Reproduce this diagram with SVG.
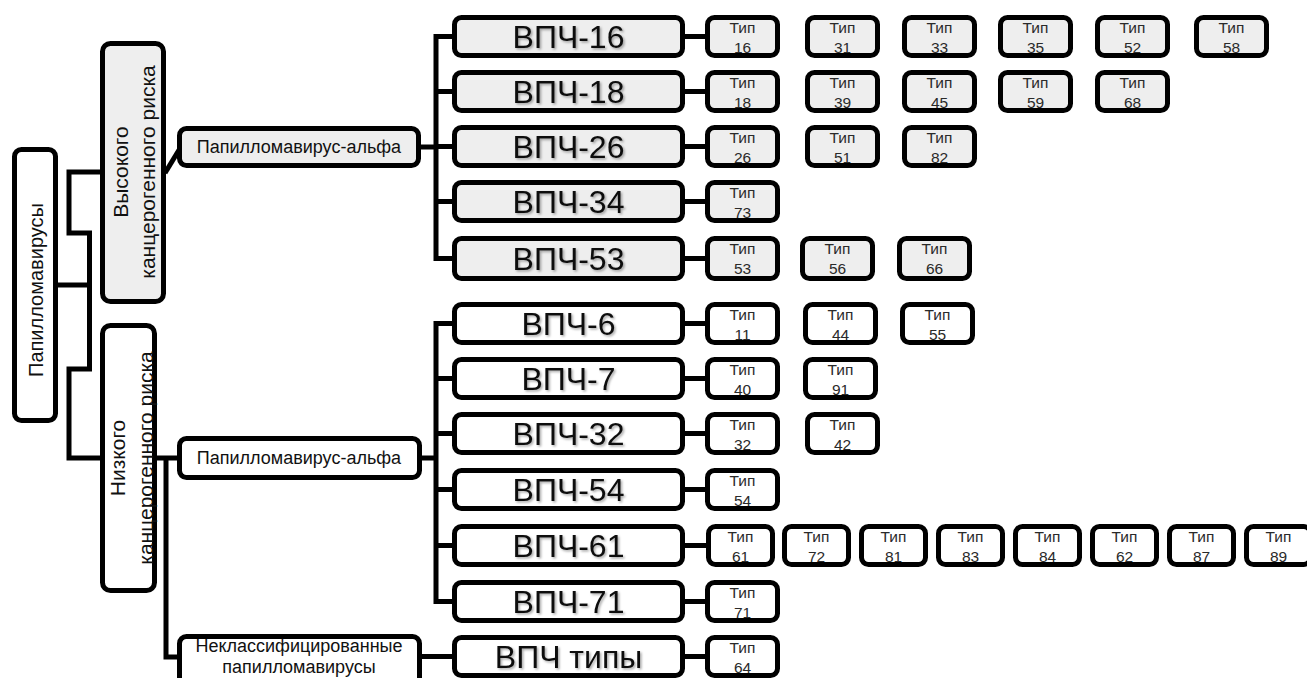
<svg xmlns="http://www.w3.org/2000/svg" width="1307" height="678" viewBox="0 0 1307 678">
<defs>
<filter id="sh" x="-10%" y="-20%" width="120%" height="150%">
<feDropShadow dx="1.5" dy="1.5" stdDeviation="1" flood-color="#000" flood-opacity="0.35"/>
</filter>
</defs>
<style>
rect{stroke:#000;stroke-width:5}
.g{fill:#eeeeee}
.w{fill:#ffffff}
text{font-family:"Liberation Sans",Arial,sans-serif;fill:#111}
.tt{font-size:15.5px;text-anchor:middle;fill:#2a2a2a}
.big{font-size:32px;text-anchor:middle;filter:url(#sh)}
.mid{font-size:18px;text-anchor:middle}
.rot{font-size:21px;text-anchor:middle}
.con{fill:none;stroke:#000;stroke-width:5;stroke-linejoin:miter}
</style>
<g id="connectors">
<path class="con" d="M58,285 H89.5"/>
<path class="con" d="M100,172 H69 V233 H89.5 V369 H69 V458 H100"/>
<path class="con" d="M165,173 L179,150"/>
<path class="con" d="M421,147 H436"/>
<path class="con" d="M452,36.5 H436 V258.5 H452 M436,91.5 H452 M436,146.5 H452 M436,201.5 H452"/>
<path class="con" d="M157,458 H177 M166,458 V657 H177"/>
<path class="con" d="M422,458 H436"/>
<path class="con" d="M452,323.5 H436 V601.5 H452 M436,378.5 H452 M436,433.5 H452 M436,489.5 H452 M436,545.5 H452"/>
<path class="con" d="M422,656.5 H452"/>
<path class="con" d="M685,36.5 H705 M685,91.5 H705 M685,146.5 H705 M685,201.5 H705 M685,258.5 H705 M685,323.5 H705 M685,378.5 H705 M685,433.5 H705 M685,489.5 H705 M685,545.5 H706 M685,601.5 H705 M685,656.5 H705"/>
</g>
<g id="root"><rect class="w" x="14.5" y="149.5" width="41" height="271" rx="7"/><text font-size="20" text-anchor="middle" transform="translate(35,290) rotate(-90)" y="8">Папилломавирусы</text></g>
<g id="high"><rect class="g" x="102.5" y="43.5" width="61" height="258" rx="8"/><text class="rot" transform="translate(128,172) rotate(-90)">Высокого</text><text class="rot" transform="translate(155,172) rotate(-90)">канцерогенного риска</text></g>
<g id="low"><rect class="w" x="102.5" y="325.5" width="52" height="265" rx="8"/><text class="rot" transform="translate(125,458) rotate(-90)">Низкого</text><text class="rot" transform="translate(153,458) rotate(-90)">канцерогенного риска</text></g>
<g id="alpha-high"><rect class="g" x="179.5" y="128.5" width="239" height="37" rx="7"/><text class="mid" x="299" y="153">Папилломавирус-альфа</text></g>
<g id="alpha-low"><rect class="w" x="179.5" y="438.5" width="240" height="39" rx="7"/><text class="mid" x="299" y="464">Папилломавирус-альфа</text></g>
<g id="unclass"><rect class="w" x="179.5" y="636.5" width="240" height="60" rx="7"/><text class="mid" x="299" y="652">Неклассифицированные</text><text class="mid" x="299" y="673">папилломавирусы</text></g>
<g id="v16"><rect class="g" x="454.5" y="17.5" width="228" height="38" rx="7"/><text class="big" x="568.5" y="48">ВПЧ-16</text></g>
<g id="v18"><rect class="g" x="454.5" y="72.5" width="228" height="38" rx="7"/><text class="big" x="568.5" y="103">ВПЧ-18</text></g>
<g id="v26"><rect class="g" x="454.5" y="127.5" width="228" height="38" rx="7"/><text class="big" x="568.5" y="158">ВПЧ-26</text></g>
<g id="v34"><rect class="g" x="454.5" y="182.5" width="228" height="38" rx="7"/><text class="big" x="568.5" y="213">ВПЧ-34</text></g>
<g id="v53"><rect class="g" x="454.5" y="238.5" width="228" height="40" rx="7"/><text class="big" x="568.5" y="270">ВПЧ-53</text></g>
<g id="v6"><rect class="w" x="454.5" y="304.5" width="228" height="38" rx="7"/><text class="big" x="568.5" y="335">ВПЧ-6</text></g>
<g id="v7"><rect class="w" x="454.5" y="359.5" width="228" height="38" rx="7"/><text class="big" x="568.5" y="390">ВПЧ-7</text></g>
<g id="v32"><rect class="w" x="454.5" y="414.5" width="228" height="38" rx="7"/><text class="big" x="568.5" y="445">ВПЧ-32</text></g>
<g id="v54"><rect class="w" x="454.5" y="470.5" width="228" height="38" rx="7"/><text class="big" x="568.5" y="501">ВПЧ-54</text></g>
<g id="v61"><rect class="w" x="454.5" y="526.5" width="228" height="38" rx="7"/><text class="big" x="568.5" y="557">ВПЧ-61</text></g>
<g id="v71"><rect class="w" x="454.5" y="582.5" width="228" height="38" rx="7"/><text class="big" x="568.5" y="613">ВПЧ-71</text></g>
<g id="vtypes"><rect class="w" x="454.5" y="637.5" width="228" height="38" rx="7"/><text class="big" x="568.5" y="668">ВПЧ типы</text></g>
<g id="t16"><rect class="g" x="707.5" y="17.5" width="70" height="38" rx="7"/><text class="tt" x="742.5" y="32.5">Тип</text><text class="tt" x="742.5" y="52.5">16</text></g>
<g id="t31"><rect class="g" x="807.5" y="17.5" width="70" height="38" rx="7"/><text class="tt" x="842.5" y="32.5">Тип</text><text class="tt" x="842.5" y="52.5">31</text></g>
<g id="t33"><rect class="g" x="904.5" y="17.5" width="70" height="38" rx="7"/><text class="tt" x="939.5" y="32.5">Тип</text><text class="tt" x="939.5" y="52.5">33</text></g>
<g id="t35"><rect class="g" x="1000.5" y="17.5" width="70" height="38" rx="7"/><text class="tt" x="1035.5" y="32.5">Тип</text><text class="tt" x="1035.5" y="52.5">35</text></g>
<g id="t52"><rect class="g" x="1097.5" y="17.5" width="70" height="38" rx="7"/><text class="tt" x="1132.5" y="32.5">Тип</text><text class="tt" x="1132.5" y="52.5">52</text></g>
<g id="t58"><rect class="g" x="1196.5" y="17.5" width="70" height="38" rx="7"/><text class="tt" x="1231.5" y="32.5">Тип</text><text class="tt" x="1231.5" y="52.5">58</text></g>
<g id="t18"><rect class="g" x="707.5" y="72.5" width="70" height="38" rx="7"/><text class="tt" x="742.5" y="87.5">Тип</text><text class="tt" x="742.5" y="107.5">18</text></g>
<g id="t39"><rect class="g" x="807.5" y="72.5" width="70" height="38" rx="7"/><text class="tt" x="842.5" y="87.5">Тип</text><text class="tt" x="842.5" y="107.5">39</text></g>
<g id="t45"><rect class="g" x="904.5" y="72.5" width="70" height="38" rx="7"/><text class="tt" x="939.5" y="87.5">Тип</text><text class="tt" x="939.5" y="107.5">45</text></g>
<g id="t59"><rect class="g" x="1000.5" y="72.5" width="70" height="38" rx="7"/><text class="tt" x="1035.5" y="87.5">Тип</text><text class="tt" x="1035.5" y="107.5">59</text></g>
<g id="t68"><rect class="g" x="1097.5" y="72.5" width="70" height="38" rx="7"/><text class="tt" x="1132.5" y="87.5">Тип</text><text class="tt" x="1132.5" y="107.5">68</text></g>
<g id="t26"><rect class="g" x="707.5" y="127.5" width="70" height="38" rx="7"/><text class="tt" x="742.5" y="142.5">Тип</text><text class="tt" x="742.5" y="162.5">26</text></g>
<g id="t51"><rect class="g" x="807.5" y="127.5" width="70" height="38" rx="7"/><text class="tt" x="842.5" y="142.5">Тип</text><text class="tt" x="842.5" y="162.5">51</text></g>
<g id="t82"><rect class="g" x="904.5" y="127.5" width="70" height="38" rx="7"/><text class="tt" x="939.5" y="142.5">Тип</text><text class="tt" x="939.5" y="162.5">82</text></g>
<g id="t73"><rect class="g" x="707.5" y="182.5" width="70" height="38" rx="7"/><text class="tt" x="742.5" y="197.5">Тип</text><text class="tt" x="742.5" y="217.5">73</text></g>
<g id="t53"><rect class="g" x="707.5" y="238.5" width="70" height="40" rx="7"/><text class="tt" x="742.5" y="254">Тип</text><text class="tt" x="742.5" y="274">53</text></g>
<g id="t56"><rect class="g" x="802.5" y="238.5" width="70" height="40" rx="7"/><text class="tt" x="837.5" y="254">Тип</text><text class="tt" x="837.5" y="274">56</text></g>
<g id="t66"><rect class="g" x="899.5" y="238.5" width="70" height="40" rx="7"/><text class="tt" x="934.5" y="254">Тип</text><text class="tt" x="934.5" y="274">66</text></g>
<g id="t11"><rect class="w" x="707.5" y="304.5" width="70" height="38" rx="7"/><text class="tt" x="742.5" y="319.5">Тип</text><text class="tt" x="742.5" y="339.5">11</text></g>
<g id="t44"><rect class="w" x="805.5" y="304.5" width="70" height="38" rx="7"/><text class="tt" x="840.5" y="319.5">Тип</text><text class="tt" x="840.5" y="339.5">44</text></g>
<g id="t55"><rect class="w" x="902.5" y="304.5" width="70" height="38" rx="7"/><text class="tt" x="937.5" y="319.5">Тип</text><text class="tt" x="937.5" y="339.5">55</text></g>
<g id="t40"><rect class="w" x="707.5" y="359.5" width="70" height="38" rx="7"/><text class="tt" x="742.5" y="374.5">Тип</text><text class="tt" x="742.5" y="394.5">40</text></g>
<g id="t91"><rect class="w" x="805.5" y="359.5" width="70" height="38" rx="7"/><text class="tt" x="840.5" y="374.5">Тип</text><text class="tt" x="840.5" y="394.5">91</text></g>
<g id="t32"><rect class="w" x="707.5" y="414.5" width="70" height="38" rx="7"/><text class="tt" x="742.5" y="429.5">Тип</text><text class="tt" x="742.5" y="449.5">32</text></g>
<g id="t42"><rect class="w" x="807.5" y="414.5" width="70" height="38" rx="7"/><text class="tt" x="842.5" y="429.5">Тип</text><text class="tt" x="842.5" y="449.5">42</text></g>
<g id="t54"><rect class="w" x="707.5" y="470.5" width="70" height="38" rx="7"/><text class="tt" x="742.5" y="485.5">Тип</text><text class="tt" x="742.5" y="505.5">54</text></g>
<g id="t61"><rect class="w" x="708.5" y="526.5" width="64" height="38" rx="7"/><text class="tt" x="740.5" y="541.5">Тип</text><text class="tt" x="740.5" y="561.5">61</text></g>
<g id="t72"><rect class="w" x="784.5" y="526.5" width="64" height="38" rx="7"/><text class="tt" x="816.5" y="541.5">Тип</text><text class="tt" x="816.5" y="561.5">72</text></g>
<g id="t81"><rect class="w" x="861.5" y="526.5" width="64" height="38" rx="7"/><text class="tt" x="893.5" y="541.5">Тип</text><text class="tt" x="893.5" y="561.5">81</text></g>
<g id="t83"><rect class="w" x="938.5" y="526.5" width="64" height="38" rx="7"/><text class="tt" x="970.5" y="541.5">Тип</text><text class="tt" x="970.5" y="561.5">83</text></g>
<g id="t84"><rect class="w" x="1015.5" y="526.5" width="64" height="38" rx="7"/><text class="tt" x="1047.5" y="541.5">Тип</text><text class="tt" x="1047.5" y="561.5">84</text></g>
<g id="t62"><rect class="w" x="1092.5" y="526.5" width="64" height="38" rx="7"/><text class="tt" x="1124.5" y="541.5">Тип</text><text class="tt" x="1124.5" y="561.5">62</text></g>
<g id="t87"><rect class="w" x="1169.5" y="526.5" width="64" height="38" rx="7"/><text class="tt" x="1201.5" y="541.5">Тип</text><text class="tt" x="1201.5" y="561.5">87</text></g>
<g id="t89"><rect class="w" x="1246.5" y="526.5" width="64" height="38" rx="7"/><text class="tt" x="1278.5" y="541.5">Тип</text><text class="tt" x="1278.5" y="561.5">89</text></g>
<g id="t71"><rect class="w" x="707.5" y="582.5" width="70" height="38" rx="7"/><text class="tt" x="742.5" y="597.5">Тип</text><text class="tt" x="742.5" y="617.5">71</text></g>
<g id="t64"><rect class="w" x="707.5" y="637.5" width="70" height="38" rx="7"/><text class="tt" x="742.5" y="652.5">Тип</text><text class="tt" x="742.5" y="672.5">64</text></g>
</svg>
